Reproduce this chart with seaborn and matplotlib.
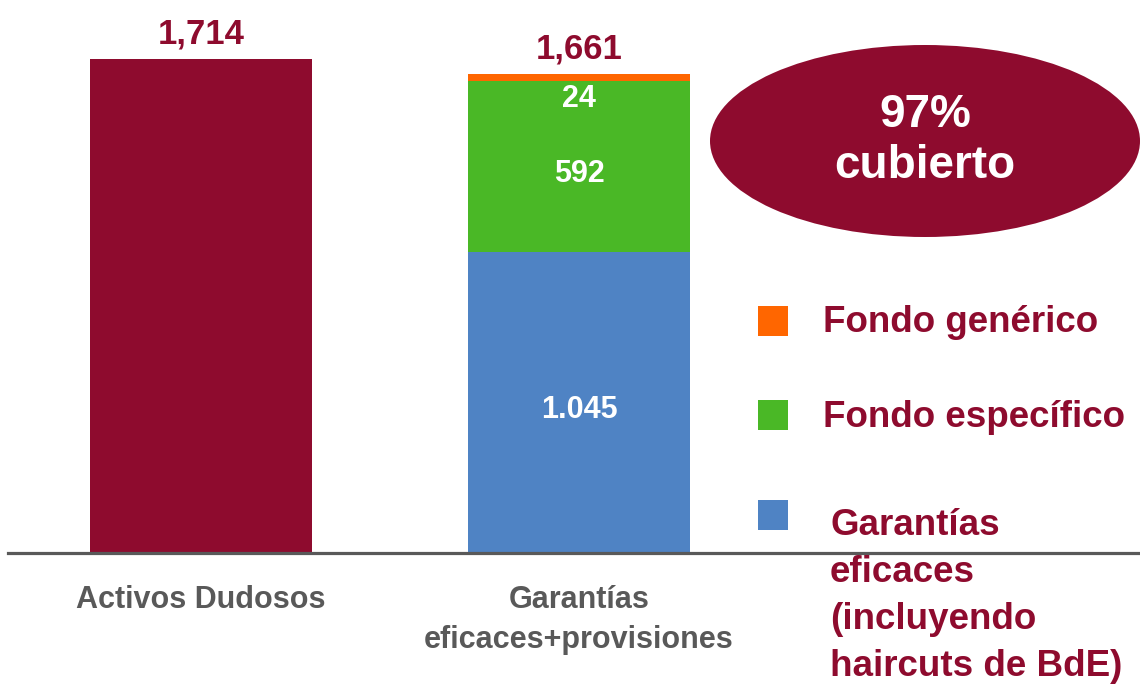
import numpy as np
import matplotlib
matplotlib.use("Agg")
import matplotlib.pyplot as plt
from matplotlib.patches import Ellipse, Rectangle
import pandas as pd
import seaborn as sns

# datos
categorias = ["Activos Dudosos", "Garantías\neficaces+provisiones"]
activos_dudosos = [1714, 0]
garantias = [0, 1045]
fondo_especifico = [0, 592]
fondo_generico = [0, 24]
totales = ["1,714", "1,661"]
etiquetas_seg = ["1.045", "592", "24"]
leyenda = ["Fondo genérico", "Fondo específico",
           "Garantías\neficaces\n(incluyendo\nhaircuts de BdE)"]
cobertura = ["97%", "cubierto"]

ROJO = "#8E0B2E"
NARANJA = "#FF6600"
VERDE = "#4AB826"
AZUL = "#4F83C4"
GRIS = "#595959"

sns.set_style("white")
plt.rcParams['font.family'] = ['Liberation Sans', 'DejaVu Sans']

df = pd.DataFrame({"cat": categorias,
                   "activos": activos_dudosos,
                   "gar": garantias,
                   "esp": fondo_especifico,
                   "gen": fondo_generico})
df["c_gar"] = df["gar"]
df["c_esp"] = df["c_gar"] + df["esp"]
df["c_gen"] = df["c_esp"] + df["gen"]

W, H = 1140, 685
fig = plt.figure(figsize=(W / 100, H / 100), dpi=100)
ax = fig.add_axes([8 / W, (H - 553) / H, 1132 / W, 553 / H])

bw = 222 / 378
kw = dict(width=bw, ax=ax, saturation=1, linewidth=0)
sns.barplot(data=df, x="cat", y="activos", color=ROJO, **kw)
sns.barplot(data=df, x="cat", y="c_gen", color=NARANJA, **kw)
sns.barplot(data=df, x="cat", y="c_esp", color=VERDE, **kw)
sns.barplot(data=df, x="cat", y="c_gar", color=AZUL, **kw)

ymax = 1714 * 553 / 494
ax.set_ylim(0, ymax)
ax.set_xlim(-193 / 378, 1 + 561 / 378)
ax.set_xlabel("")
ax.set_ylabel("")
ax.set_yticks([])
for s in ["top", "right", "left"]:
    ax.spines[s].set_visible(False)
ax.spines["bottom"].set_color(GRIS)
ax.spines["bottom"].set_linewidth(2.3)
ax.tick_params(axis="x", length=0, pad=23)
for lbl in ax.get_xticklabels():
    lbl.set_fontsize(22)
    lbl.set_fontweight("bold")
    lbl.set_color(GRIS)
    lbl.set_linespacing(1.42)
    lbl.set_va("top")

# totales
tops = [df["activos"][0], df["c_gen"][1]]
for i, (t, txt) in enumerate(zip(tops, totales)):
    ax.annotate(txt, (i, t), xytext=(0, 11.5), textcoords="offset points",
                ha="center", va="baseline", fontsize=25, fontweight="bold", color=ROJO)

# etiquetas de segmentos
seg = dict(ha="center", va="baseline", fontsize=22, fontweight="bold", color="white",
           textcoords="offset points")
ax.annotate(etiquetas_seg[0], (1, df["gar"][1] / 2), xytext=(0, -11.5), **seg)
ax.annotate(etiquetas_seg[1], (1, df["c_gar"][1] + df["esp"][1] / 2), xytext=(0, -11), **seg)
ax.annotate(etiquetas_seg[2], (1, df["c_esp"][1]), xytext=(0, -18.7), **seg)

# elipse
def fx(px):
    return px / W

def fy(py):
    return 1 - py / H

ell = Ellipse((fx(925), fy(141)), 430 / W, 192 / H, transform=fig.transFigure,
              facecolor=ROJO, edgecolor="none")
fig.patches.append(ell)
for txt, by in zip(cobertura, [127, 178]):
    fig.text(fx(925), fy(by), txt, ha="center", va="baseline", fontsize=33,
             fontweight="bold", color="white")

# leyenda
colores = [NARANJA, VERDE, AZUL]
cajas_y = [306, 400, 500]
bases = [[332], [427], [535, 582, 629, 676]]
xs = [823, 823, 830]
for c, by, bl, txt, tx in zip(colores, cajas_y, bases, leyenda, xs):
    fig.patches.append(Rectangle((fx(758), fy(by + 30)), 30 / W, 30 / H,
                                 transform=fig.transFigure, facecolor=c, edgecolor="none"))
    for linea, b in zip(txt.split("\n"), bl):
        fig.text(fx(tx), fy(b), linea, ha="left", va="baseline", fontsize=26.5,
                 fontweight="bold", color=ROJO)

fig.savefig("out.png", dpi=100)
